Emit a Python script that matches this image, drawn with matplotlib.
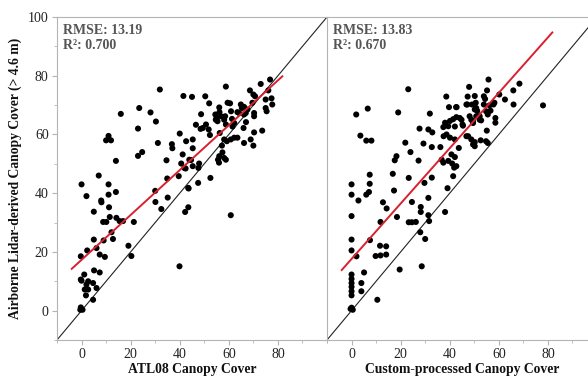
import matplotlib
matplotlib.use("Agg")
import matplotlib.pyplot as plt
from matplotlib.ticker import MultipleLocator

# ---------------- data ----------------
atl08_x = [0, 2, 7, 11, 11, 14, 8, 8.1, 5, 11.2, 8.8, 10.1, 11.5, 14.2, 15.5, 16.9, 21.3, 12.2, 12.8, 9, 5,
           6.1, 2.3, -0.3, 7.4, 9.5, 19.1, 20.3, 30, 30.1, 32.5, 35.1, 39.9, 43.5, 43.5, 42.2, 60.8,
           1.1, -0.3, 2.7, 1.3, 2.7, 1.8, 5.1, 7.4, 4.7, 6.1, 4.7, -0.3, 0.4, -0.5, 0, 2,
           10, 11, 12, 14, 16, 23.5, 23, 23, 24.7, 28.1, 30.3, 31.1, 31.9, 34.6, 34.9,
           36.8, 37, 39.6, 40, 41.5, 41.2, 40.6, 42.4, 43.6, 45, 45.3, 45.3, 44.6, 42.6, 43.9, 41.9, 45.3,
           46.6, 47.5, 47.9, 47.6, 48.5, 48.7, 49.4,
           50.4, 50.7, 51.8, 52, 52.3, 52.5, 54.5, 55, 55.4, 54.7, 56.1, 56.2, 56.8, 56.3, 57.2, 57.4, 56.1,
           55.6, 56, 58.8, 58.5, 58.8, 58.8, 58.1, 58.1, 59.2, 58.1, 59.5, 60.5, 60.8, 60.9, 61.3, 61.5,
           62.2, 62.2, 63.5, 63.5,
           64.9, 65.3, 64.2, 66.2, 66.9, 66.2, 66, 67, 66.2, 67.6, 68.6, 68.9, 69.6, 70, 70.7, 70.3, 70.3,
           70.3, 70, 73, 73.6, 75, 75, 75.4, 76.1, 76.8, 77.4, 77.7]
atl08_y = [43, 39, 46, 43, 39.5, 40.4, 37.5, 36.9, 33.7, 35.2, 30.2, 30.2, 31.9, 31.6, 30.5, 30.5, 30.2, 26.7, 24.4, 23.9, 24.2,
           21.3, 20.5, 18.5, 19.1, 18.3, 22.1, 18.6, 40.8, 37, 34.6, 38.5, 15.1, 41.8, 35.2, 33.6, 32.5,
           12.3, 10.6, 10, 7.2, 7.2, 5.2, 13.7, 13, 9.4, 7.7, 3.7, 1.1, 0.3, 0.3, 10.2, 8.9,
           58, 59.5, 58, 51, 67, 69, 62, 52.7, 54, 67.5, 64.4, 57.1, 75.3, 51.2, 45,
           56.7, 55.3, 45.8, 60.3, 73.1, 53.2, 50.1, 48.4, 41.6, 72.8, 58.3, 55.3, 51.3, 57.7, 51.4, 48.6, 49.2,
           63.3, 43.5, 50.1, 48.6, 61.9, 66.9, 62.2,
           73, 63.4, 61.7, 70.6, 59.8, 45.2, 66.8, 65.6, 64.5, 65, 69.2, 67.6, 66.2, 60.5, 56.2, 53.9, 52.6,
           51.4, 50.4, 76.3, 66.2, 63.4, 51.4, 52, 58.3, 57.7, 65, 70.8, 70.6, 58.3, 67.9, 65.3, 62.7,
           63.9, 58.9, 58.9, 67.6,
           70.2, 69, 67.3, 69.4, 67.3, 66.8, 62.2, 64.2, 57.1, 68.5, 75, 58.3, 70.8, 73.6, 73, 67.3, 66.2,
           60.7, 56.2, 77.2, 61.3, 71.9, 69, 67.9, 75, 78.7, 72.3, 70.2]

custom_x = [0, 0, 7.4, 7.1, 6, 2.8, 0, 12.8, 14.3, 11.8, 17.3, 18.5, 23.3, 24.6, 26.2, 24.6, 28.2, 28.2, 29.7,
            31.3, 31.3, 31.6, 38.1, 39.1, 28, 30, 0, 0, 7.5, 2, 11.6, 14.1, 14.1, 11.8, 9.8, 19.6, 28.6,
            0, 0, 0, 0, 0, 0, 4, 4, 5.1, 10.5, 0, 0.5, -0.4, 7.4, 16.8, 23.3, 32.7,
            1.9, 6.6, 3.6, 6, 8.1, 23.1, 19, 21.9, 24, 18.3, 17.6, 27.3, 29.3, 27.7, 31.3, 32.9, 31.9, 32.7,
            36.2, 38.6, 39.7, 42.6, 38.1, 37.4, 39.4, 40.1, 41.4, 42.7, 44.1, 44.8, 42.1, 45.4, 38.7, 40.1,
            42.1, 37.5, 43.7, 40.7, 42.1, 39.4, 37.4, 41, 36.7, 41.8, 42.7, 41.4,
            47.9, 47.3, 50.2, 47.2, 49.1, 50.2, 51.2, 48.1, 48.8, 49.5, 47.5, 48.8, 49.5, 50.2, 52.6, 52.8,
            53.9, 54.4, 55.2, 55.8, 53.9, 56.2, 54.8, 56.6, 55.5, 52.2, 50.8, 55.1, 55.5, 57.8, 58.6, 58.6,
            60.2, 62.5, 65.9, 66, 68.4, 78, 50.6, 58.2, 46.8, 50.8, 52.2, 49.5, 46.8, 54.8, 50.2, 42.8, 45.2]
custom_y = [43, 39.5, 43.2, 40.4, 39.5, 37.5, 32.2, 36.9, 34.8, 30.2, 40.9, 31.9, 30.1, 30.1, 30.2, 37, 35.3, 33.6, 43.5,
            38.4, 32.5, 30.5, 33.6, 41.7, 26.7, 24.4, 24.2, 20.5, 24, 18.5, 22.1, 21.9, 19.1, 18.8, 18.6, 14, 15.1,
            12.3, 10.8, 9.4, 8.1, 6.6, 5.2, 9.4, 6.6, 13, 3.7, 1, 0.3, 0.6, 46.3, 46.6, 45.2, 45.3,
            66.8, 68.8, 59.6, 57.9, 57.9, 75.4, 67.5, 57.2, 54, 52.6, 51.2, 51.1, 56.9, 62, 61.7, 60.7, 67.1, 55.7,
            55.7, 72.9, 69.3, 69.3, 64, 62.5, 62.8, 64.6, 65.2, 65.9, 65.6, 65, 62.7, 63, 60, 58.9,
            58.3, 59.4, 55.4, 53.2, 52.3, 51, 50.4, 50.1, 51.4, 48.7, 49.2, 45.8,
            76.2, 72.9, 73.1, 70.2, 70.2, 68.5, 68, 66.2, 65, 63.9, 59.4, 58.3, 56.6, 56, 58, 64.8,
            73, 72.1, 75, 78.7, 70.2, 69.9, 67.9, 68.1, 66.8, 66.2, 69, 61.3, 57.1, 70.2, 65.6, 64,
            73.6, 71.9, 75, 70.2, 77.3, 69.9, 70.8, 70.8, 70.2, 66.2, 65, 64.5, 59.4, 57.7, 57.4, 69.3, 63.4]

# regression fits (slope, intercept) and line x-extent
fit_left = (0.764, 17.3)
fit_right = (0.943, 17.6)
fit_xrange = [-4, 81.8]
stats_left = ["RMSE: 13.19", "R²: 0.700"]
stats_right = ["RMSE: 13.83", "R²: 0.670"]
xlabels = ["ATL08 Canopy Cover", "Custom-processed Canopy Cover"]
ylabel = "Airborne Lidar-derived Canopy Cover (> 4.6 m)"

# ---------------- plot ----------------
plt.rcParams['font.family'] = ['Liberation Serif', 'DejaVu Serif']
fig = plt.figure(figsize=(5.88, 3.78), dpi=100)
W, H = 588, 378
ax1 = fig.add_axes([57 / W, 38 / H, 270 / W, 323 / H])
ax2 = fig.add_axes([327 / W, 38 / H, 270 / W, 323 / H])

spine_c = '#b4b4b4'
for ax, xs, ys, fit, st, xl in [(ax1, atl08_x, atl08_y, fit_left, stats_left, xlabels[0]),
                                (ax2, custom_x, custom_y, fit_right, stats_right, xlabels[1])]:
    ax.set_xlim(-10, 100)
    ax.set_ylim(-10, 100)
    ax.plot([-10, 100], [-10, 100], color='#222222', lw=0.8, zorder=2)
    ax.scatter(xs, ys, s=19, color='black', edgecolors='none', zorder=3)
    lx = fit_xrange
    ly = [fit[0] * v + fit[1] for v in lx]
    ax.plot(lx, ly, color='#d8202f', lw=1.4, zorder=4)
    ax.xaxis.set_minor_locator(MultipleLocator(10))
    ax.yaxis.set_minor_locator(MultipleLocator(10))
    ax.set_xticks([0, 20, 40, 60, 80])
    for s in ax.spines.values():
        s.set_color(spine_c)
        s.set_linewidth(0.8)
    ax.spines['right'].set_visible(False)
    ax.tick_params(which='both', direction='out', color=spine_c, labelsize=10, labelcolor='#222222')
    ax.tick_params(which='major', length=3.5, width=0.8, pad=2.5)
    ax.tick_params(which='minor', length=2, width=0.6)
    ax.set_xlabel(xl, fontsize=9.8, fontweight='bold', labelpad=1, color='#111111')
    ax.text(0.022, 0.958, st[0], transform=ax.transAxes, fontsize=10, fontweight='bold',
            color='#555555', va='center', ha='left')
    ax.text(0.022, 0.912, st[1], transform=ax.transAxes, fontsize=10, fontweight='bold',
            color='#555555', va='center', ha='left')

ax1.set_yticks([0, 20, 40, 60, 80, 100])
ax1.set_ylabel(ylabel, fontsize=9.8, fontweight='bold', labelpad=4, color='#111111')
ax2.tick_params(axis='y', which='both', left=False, labelleft=False)

fig.savefig("out.png", dpi=100)
